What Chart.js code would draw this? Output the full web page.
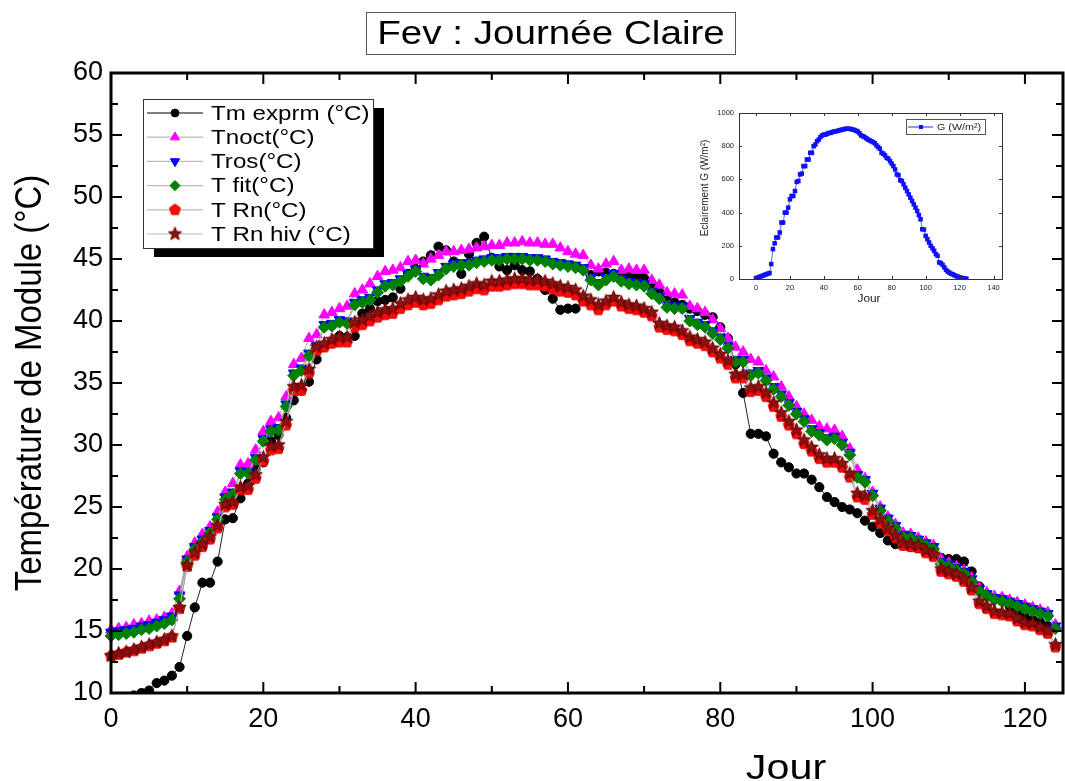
<!DOCTYPE html>
<html>
<head>
<meta charset="utf-8">
<script src="https://cdn.jsdelivr.net/npm/chart.js@4.4.1/dist/chart.umd.min.js"></script>
<style>
  body { margin: 0; background: #fff; }
  #fond { position: relative; width: 1065px; height: 781px; background: #fff; }
  #encart { position: absolute; left: 690px; top: 100px; }
</style>
</head>
<body>
<div id="fond">
  <canvas id="principal" width="1065" height="781"></canvas>
  <canvas id="encart" width="320" height="210"></canvas>
</div>
<script>
// Données (Fev : journée claire)

let titre = "Fev : Journée Claire";
let titre_y = "Température de Module (°C)";
let titre_x = "Jour";

let noms = ["Tm exprm (°C)", "Tnoct(°C)", "Tros(°C)", "T fit(°C)", "T Rn(°C)", "T Rn hiv (°C)"];

let x_ticks = [0, 20, 40, 60, 80, 100, 120];
let y_ticks = [10, 15, 20, 25, 30, 35, 40, 45, 50, 55, 60];

let jours = [0, 1, 2, 3, 4, 5, 6, 7, 8, 9,
  10, 11, 12, 13, 14, 15, 16, 17, 18, 19,
  20, 21, 22, 23, 24, 25, 26, 27, 28, 29,
  30, 31, 32, 33, 34, 35, 36, 37, 38, 39,
  40, 41, 42, 43, 44, 45, 46, 47, 48, 49,
  50, 51, 52, 53, 54, 55, 56, 57, 58, 59,
  60, 61, 62, 63, 64, 65, 66, 67, 68, 69,
  70, 71, 72, 73, 74, 75, 76, 77, 78, 79,
  80, 81, 82, 83, 84, 85, 86, 87, 88, 89,
  90, 91, 92, 93, 94, 95, 96, 97, 98, 99,
  100, 101, 102, 103, 104, 105, 106, 107, 108, 109,
  110, 111, 112, 113, 114, 115, 116, 117, 118, 119,
  120, 121, 122, 123, 124];

let tm_exprm = [8.9, 9.2, 9.5, 9.8, 10.0, 10.2, 10.8, 11.0, 11.4, 12.1,
  14.6, 16.9, 18.9, 18.9, 20.6, 24.0, 24.1, 25.7, 26.9, 28.1,
  28.6, 30.3, 30.8, 32.2, 33.6, 34.4, 35.1, 36.9, 37.9, 38.3,
  38.8, 38.7, 38.8, 40.6, 41.0, 41.6, 41.7, 41.9, 42.6, 43.8,
  44.2, 44.8, 45.3, 46.0, 45.7, 44.8, 43.8, 45.4, 46.3, 46.8,
  45.1, 44.4, 44.1, 44.5, 44.1, 44.0, 43.4, 42.5, 41.8, 40.9,
  41.0, 41.0, 41.7, 43.7, 44.0, 43.9, 43.8, 43.8, 43.6, 43.6,
  43.5, 43.0, 42.4, 42.0, 41.5, 41.3, 41.0, 40.8, 40.5, 40.3,
  39.5, 38.6, 36.5, 34.2, 30.9, 30.9, 30.7, 29.3, 28.6, 28.2,
  27.7, 27.7, 27.2, 26.6, 25.8, 25.4, 25.0, 24.8, 24.5, 23.9,
  23.4, 22.9, 22.3, 22.0, 21.9, 21.8, 21.7, 21.5, 21.2, 20.9,
  20.8, 20.8, 20.6, 19.8, 18.6, 17.9, 17.6, 17.4, 17.0, 16.6,
  16.1, 15.9, 15.7, 15.4, 15.3];

let t_noct = [15.1, 15.2, 15.3, 15.5, 15.6, 15.8, 15.9, 16.1, 16.4, 18.2,
  21.0, 22.1, 22.8, 23.4, 24.6, 26.2, 26.9, 28.4, 28.5, 29.6,
  31.1, 31.9, 32.2, 33.9, 36.5, 37.0, 38.6, 38.9, 40.5, 40.7,
  41.0, 41.2, 42.2, 42.5, 43.0, 43.6, 44.0, 44.1, 44.3, 44.8,
  44.9, 44.6, 45.0, 45.3, 45.6, 45.6, 45.7, 45.8, 45.9, 46.0,
  46.1, 46.1, 46.3, 46.3, 46.4, 46.3, 46.3, 46.2, 46.2, 45.9,
  45.6, 45.4, 45.3, 44.5, 44.2, 44.6, 44.8, 44.1, 44.2, 44.1,
  44.1, 43.3, 42.9, 42.3, 42.2, 42.1, 41.2, 41.0, 40.7, 40.1,
  39.4, 38.6, 37.9, 37.5, 36.9, 36.7, 36.0, 35.5, 34.7, 33.9,
  33.1, 32.5, 32.0, 31.5, 31.3, 31.2, 30.7, 29.7, 28.0, 27.3,
  26.2, 25.0, 24.2, 23.6, 22.9, 22.8, 22.5, 22.2, 21.9, 20.8,
  20.5, 20.2, 19.9, 19.3, 18.5, 18.1, 17.8, 17.7, 17.5, 17.3,
  17.1, 16.9, 16.7, 16.5, 15.5];

let t_ros = [14.9, 15.0, 15.1, 15.2, 15.4, 15.5, 15.7, 15.9, 16.2, 17.9,
  20.8, 21.8, 22.4, 23.1, 24.2, 25.8, 26.2, 27.9, 27.9, 29.0,
  30.5, 31.3, 31.4, 33.3, 35.8, 36.2, 37.4, 38.0, 39.7, 39.8,
  40.1, 40.0, 41.5, 41.7, 41.9, 42.5, 43.0, 43.1, 43.4, 43.8,
  44.2, 43.6, 43.5, 43.9, 44.4, 44.6, 44.7, 44.7, 44.9, 45.0,
  45.1, 45.1, 45.2, 45.2, 45.2, 45.1, 45.1, 45.0, 44.8, 44.7,
  44.6, 44.5, 44.3, 43.5, 43.1, 43.5, 43.8, 43.4, 43.2, 43.1,
  43.0, 42.4, 42.0, 41.3, 41.2, 41.2, 40.2, 39.9, 39.7, 39.2,
  38.7, 38.0, 36.9, 36.9, 35.8, 36.0, 35.4, 34.7, 34.1, 33.4,
  32.7, 32.1, 31.3, 31.0, 30.6, 30.7, 30.2, 29.4, 27.6, 27.2,
  26.1, 24.9, 24.1, 23.5, 22.8, 22.7, 22.4, 22.1, 21.8, 20.6,
  20.4, 20.1, 19.8, 19.2, 18.4, 18.0, 17.7, 17.6, 17.4, 17.2,
  17.0, 16.8, 16.6, 16.4, 15.4];

let t_fit = [14.6, 14.7, 14.8, 14.9, 15.1, 15.2, 15.4, 15.6, 15.9, 17.6,
  20.6, 21.6, 22.2, 22.9, 24.0, 25.6, 26.0, 27.7, 27.7, 28.8,
  30.3, 31.1, 31.2, 33.1, 35.6, 36.0, 37.2, 37.8, 39.5, 39.6,
  39.9, 39.8, 41.3, 41.5, 41.7, 42.3, 42.8, 42.9, 43.2, 43.6,
  44.0, 43.4, 43.3, 43.7, 44.2, 44.4, 44.5, 44.5, 44.7, 44.8,
  44.9, 44.9, 45.0, 45.0, 45.0, 44.9, 44.9, 44.8, 44.6, 44.5,
  44.4, 44.3, 44.1, 43.3, 42.9, 43.3, 43.6, 43.2, 43.0, 42.9,
  42.8, 42.2, 41.8, 41.1, 41.0, 41.0, 40.0, 39.7, 39.5, 39.0,
  38.5, 37.8, 36.7, 36.7, 35.6, 35.8, 35.2, 34.5, 33.9, 33.2,
  32.5, 31.9, 31.1, 30.8, 30.4, 30.5, 30.0, 29.2, 27.4, 27.0,
  25.9, 24.7, 23.9, 23.3, 22.6, 22.5, 22.2, 21.9, 21.6, 20.4,
  20.2, 19.9, 19.6, 19.0, 18.2, 17.8, 17.5, 17.4, 17.2, 17.0,
  16.8, 16.6, 16.4, 16.2, 15.2];

let t_rn = [13.0, 13.1, 13.3, 13.4, 13.6, 13.8, 14.0, 14.2, 14.5, 16.8,
  20.2, 21.1, 21.8, 22.4, 23.3, 25.0, 25.2, 26.4, 26.4, 27.3,
  28.7, 29.6, 29.7, 31.6, 34.4, 34.4, 35.8, 37.6, 37.9, 38.2,
  38.3, 38.3, 39.5, 39.7, 40.0, 40.3, 40.5, 40.6, 41.0, 41.3,
  41.5, 41.3, 41.4, 41.7, 42.0, 42.1, 42.2, 42.4, 42.6, 42.5,
  42.8, 42.8, 42.9, 43.0, 43.0, 42.9, 42.9, 42.8, 42.6, 42.4,
  42.3, 42.1, 41.6, 41.3, 40.9, 41.3, 41.6, 41.2, 41.0, 40.9,
  40.7, 40.4, 39.5, 39.3, 39.2, 38.9, 38.4, 38.2, 38.0, 37.5,
  37.0, 36.5, 35.4, 35.4, 34.3, 34.4, 33.9, 33.1, 32.3, 31.6,
  30.9, 30.1, 29.5, 28.9, 28.6, 28.6, 28.2, 27.4, 25.8, 25.6,
  24.4, 23.7, 23.1, 22.5, 21.9, 21.8, 21.7, 21.3, 21.0, 19.8,
  19.6, 19.4, 19.0, 18.3, 17.2, 16.8, 16.4, 16.3, 16.2, 15.8,
  15.5, 15.4, 15.1, 14.8, 13.7];

let t_rn_hiv = [13.0, 13.2, 13.3, 13.5, 13.7, 13.9, 14.1, 14.3, 14.6, 16.9,
  20.3, 21.3, 22.0, 22.6, 23.5, 25.2, 25.4, 26.6, 26.7, 27.6,
  29.0, 29.9, 30.0, 31.9, 34.7, 34.8, 36.1, 37.9, 38.2, 38.5,
  38.7, 38.7, 39.9, 40.1, 40.4, 40.7, 40.9, 41.0, 41.4, 41.7,
  41.9, 41.7, 41.8, 42.1, 42.4, 42.5, 42.6, 42.8, 43.0, 42.9,
  43.2, 43.2, 43.3, 43.4, 43.4, 43.3, 43.3, 43.2, 43.0, 42.8,
  42.7, 42.5, 42.0, 41.7, 41.3, 41.6, 41.9, 41.5, 41.3, 41.2,
  41.0, 40.7, 39.8, 39.6, 39.5, 39.2, 38.7, 38.5, 38.3, 37.8,
  37.3, 36.8, 35.7, 35.7, 34.6, 34.7, 34.2, 33.4, 32.6, 31.9,
  31.2, 30.4, 29.8, 29.2, 28.9, 28.9, 28.5, 27.7, 26.1, 25.9,
  24.7, 24.0, 23.3, 22.7, 22.1, 22.0, 21.9, 21.5, 21.2, 20.0,
  19.8, 19.6, 19.2, 18.5, 17.4, 17.0, 16.6, 16.5, 16.4, 16.0,
  15.7, 15.6, 15.3, 15.0, 13.9];

// encart : éclairement
let encart_titre_y = "Eclairement G (W/m²)";
let encart_nom = "G (W/m²)";
let encart_x_ticks = [0, 20, 40, 60, 80, 100, 120, 140];
let encart_y_ticks = [0, 200, 400, 600, 800, 1000];

let eclairement = [5, 8, 12, 16, 20, 24, 28, 32, 36, 90,
  180, 215, 250, 250, 280, 340, 340, 400, 400, 430,
  480, 500, 500, 530, 585, 590, 630, 635, 680, 680,
  720, 720, 760, 760, 800, 810, 830, 840, 855, 865,
  870, 870, 875, 880, 880, 885, 888, 890, 892, 895,
  898, 900, 903, 905, 905, 905, 903, 900, 898, 893,
  888, 878, 865, 860, 855, 848, 840, 835, 830, 825,
  818, 805, 795, 785, 760, 755, 745, 730, 725, 710,
  695, 680, 660, 630, 625, 595, 590, 570, 550, 530,
  510, 490, 470, 450, 430, 410, 385, 360, 300, 298,
  260, 240, 220, 200, 185, 170, 150, 140, 100, 95,
  85, 70, 55, 45, 38, 32, 28, 22, 18, 14,
  10, 7, 5, 3, 2];

let police = "'Liberation Sans', Arial, Helvetica, sans-serif";

// marqueurs pentagone et étoile (pas dans Chart.js)
function forme(nb, r_ext, r_int, couleur, bord) {
  let c = document.createElement("canvas");
  let t = Math.ceil(r_ext * 2 + 3);
  c.width = t;
  c.height = t;
  let g = c.getContext("2d");
  g.translate(t / 2, t / 2);
  g.beginPath();
  let n = r_int ? nb * 2 : nb;
  for (let i = 0; i < n; i++) {
    let r = r_int && i % 2 ? r_int : r_ext;
    let a = -Math.PI / 2 + (i * Math.PI * 2) / n;
    g.lineTo(r * Math.cos(a), r * Math.sin(a));
  }
  g.closePath();
  g.fillStyle = couleur;
  g.fill();
  g.strokeStyle = bord;
  g.lineWidth = 1;
  g.stroke();
  return c;
}

let pentagone = forme(5, 5.8, 0, "#ff0a0a", "#dd0000");
let etoile = forme(5, 7, 3, "#8a1212", "#6a0000");

let styles = [
  { pointStyle: "circle", radius: 4.6, rotation: 0, couleur: "#000000", trait: "#222222" },
  { pointStyle: "triangle", radius: 6.2, rotation: 0, couleur: "#ff00ff", trait: "#a8a8a8" },
  { pointStyle: "triangle", radius: 6.2, rotation: 180, couleur: "#0000ff", trait: "#a8a8a8" },
  { pointStyle: "rectRot", radius: 6, rotation: 0, couleur: "#008000", trait: "#a8a8a8" },
  { pointStyle: pentagone, radius: 6, rotation: 0, couleur: "#ff0000", trait: "#a8a8a8" },
  { pointStyle: etoile, radius: 6, rotation: 0, couleur: "#8b0000", trait: "#a8a8a8" },
];

let series = [tm_exprm, t_noct, t_ros, t_fit, t_rn, t_rn_hiv];

function etire(ctx, txt, x, y, sx, align) {
  ctx.save();
  ctx.translate(x, y);
  ctx.scale(sx, 1);
  ctx.textAlign = align;
  ctx.fillText(txt, 0, 0);
  ctx.restore();
}

// cadre noir + graduations vers l'intérieur
let cadre = {
  id: "cadre",
  afterDatasetsDraw(chart) {
    let { ctx, chartArea: a, scales } = chart;
    ctx.save();
    ctx.strokeStyle = "#000";
    ctx.lineWidth = 2;
    ctx.beginPath();
    for (let i = 0; i < x_ticks.length; i++) {
      let v = x_ticks[i];
      let px = scales.x.getPixelForValue(v);
      ctx.moveTo(px, a.bottom); ctx.lineTo(px, a.bottom - 11);
      ctx.moveTo(px, a.top); ctx.lineTo(px, a.top + 11);
      let m = scales.x.getPixelForValue(v + 10);
      if (m < a.right) {
        ctx.moveTo(m, a.bottom); ctx.lineTo(m, a.bottom - 7);
        ctx.moveTo(m, a.top); ctx.lineTo(m, a.top + 7);
      }
    }
    for (let i = 0; i < y_ticks.length; i++) {
      let v = y_ticks[i];
      let py = scales.y.getPixelForValue(v);
      ctx.moveTo(a.left, py); ctx.lineTo(a.left + 11, py);
      ctx.moveTo(a.right, py); ctx.lineTo(a.right - 11, py);
      if (i < y_ticks.length - 1) {
        let m = scales.y.getPixelForValue(v + 2.5);
        ctx.moveTo(a.left, m); ctx.lineTo(a.left + 7, m);
        ctx.moveTo(a.right, m); ctx.lineTo(a.right - 7, m);
      }
    }
    ctx.stroke();
    ctx.lineWidth = 3;
    ctx.strokeRect(a.left, a.top, a.right - a.left, a.bottom - a.top);
    ctx.restore();
  },
  afterDraw(chart) {
    let ctx = chart.ctx;
    ctx.save();
    ctx.textBaseline = "middle";

    // titre encadré
    ctx.fillStyle = "#fff";
    ctx.fillRect(366, 12, 370, 43);
    ctx.strokeStyle = "#555";
    ctx.lineWidth = 1;
    ctx.strokeRect(366.5, 12.5, 369, 42);
    ctx.fillStyle = "#000";
    ctx.font = "33px " + police;
    etire(ctx, titre, 551, 35, 1.17, "center");

    // titre axe y
    ctx.save();
    ctx.translate(31, 383);
    ctx.rotate(-Math.PI / 2);
    ctx.scale(1, 1.12);
    ctx.font = "33px " + police;
    ctx.textAlign = "center";
    ctx.fillText(titre_y, 0, 0);
    ctx.restore();

    // titre axe x
    ctx.font = "35px " + police;
    etire(ctx, titre_x, 786, 769, 1.18, "center");

    // légende avec ombre
    let lx = 143, ly = 99, lw = 230, lh = 149;
    ctx.fillStyle = "#000";
    ctx.fillRect(lx + 11, ly + 9, lw, lh);
    ctx.fillStyle = "#fff";
    ctx.fillRect(lx, ly, lw, lh);
    ctx.strokeStyle = "#333";
    ctx.lineWidth = 1;
    ctx.strokeRect(lx + 0.5, ly + 0.5, lw, lh);
    for (let i = 0; i < noms.length; i++) {
      let yy = ly + 14 + i * 24.2;
      ctx.strokeStyle = i === 0 ? "#000" : "#bbbbbb";
      ctx.lineWidth = 1.2;
      ctx.beginPath();
      ctx.moveTo(lx + 4, yy);
      ctx.lineTo(lx + 60, yy);
      ctx.stroke();
      ctx.fillStyle = styles[i].couleur;
      ctx.strokeStyle = styles[i].couleur;
      ctx.lineWidth = 1;
      Chart.helpers.drawPoint(ctx, {
        pointStyle: styles[i].pointStyle,
        rotation: styles[i].rotation,
        radius: styles[i].radius * 0.85,
        borderWidth: 1,
      }, lx + 32, yy);
      ctx.fillStyle = "#000";
      ctx.font = "21px " + police;
      etire(ctx, noms[i], lx + 68, yy + 1, 1.15, "left");
    }
    ctx.restore();
  },
};

let datasets = series.map((serie, i) => ({
  label: noms[i],
  data: jours.map((j, k) => ({ x: j, y: serie[k] })),
  borderColor: styles[i].trait,
  borderWidth: 1,
  pointStyle: styles[i].pointStyle,
  pointRadius: styles[i].radius,
  pointRotation: styles[i].rotation,
  pointBackgroundColor: styles[i].couleur,
  pointBorderColor: styles[i].couleur,
  pointBorderWidth: 1,
  pointHoverRadius: styles[i].radius,
  order: series.length - i,
  clip: { left: 8, right: 8, top: 8, bottom: 0 },
}));

new Chart(document.getElementById("principal"), {
  type: "line",
  data: { datasets: datasets },
  options: {
    responsive: false,
    animation: false,
    events: [],
    layout: { autoPadding: false, padding: { top: 73, right: 2, left: 0, bottom: 0 } },
    plugins: { legend: { display: false }, tooltip: { enabled: false } },
    scales: {
      x: {
        type: "linear",
        min: 0,
        max: 125,
        afterBuildTicks: (s) => { s.ticks = x_ticks.map((v) => ({ value: v })); },
        afterFit: (s) => { s.height = 88; s.paddingLeft = 0; s.paddingRight = 0; },
        grid: { display: false, drawTicks: false },
        border: { display: false },
        ticks: { color: "#000", font: { family: police, size: 27 }, padding: 10, maxRotation: 0, callback: (v) => String(v) },
      },
      y: {
        type: "linear",
        min: 10,
        max: 60,
        afterBuildTicks: (s) => { s.ticks = y_ticks.map((v) => ({ value: v })); },
        afterFit: (s) => { s.width = 111; s.paddingTop = 0; s.paddingBottom = 0; },
        grid: { display: false, drawTicks: false },
        border: { display: false },
        ticks: { color: "#000", font: { family: police, size: 27 }, padding: 8, callback: (v) => String(v) },
      },
    },
  },
  plugins: [cadre],
});

// encart
let cadre_encart = {
  id: "cadreEncart",
  afterDatasetsDraw(chart) {
    let { ctx, chartArea: a, scales } = chart;
    ctx.save();
    ctx.strokeStyle = "#333";
    ctx.lineWidth = 1;
    ctx.beginPath();
    encart_x_ticks.forEach((v) => {
      let px = Math.round(scales.x.getPixelForValue(v)) + 0.5;
      ctx.moveTo(px, a.bottom); ctx.lineTo(px, a.bottom - 3);
      ctx.moveTo(px, a.top); ctx.lineTo(px, a.top + 3);
    });
    encart_y_ticks.forEach((v) => {
      let py = Math.round(scales.y.getPixelForValue(v)) + 0.5;
      ctx.moveTo(a.left, py); ctx.lineTo(a.left + 3, py);
      ctx.moveTo(a.right, py); ctx.lineTo(a.right - 3, py);
    });
    ctx.stroke();
    ctx.strokeRect(Math.round(a.left) + 0.5, Math.round(a.top) + 0.5, Math.round(a.right - a.left), Math.round(a.bottom - a.top));
    ctx.restore();
  },
  afterDraw(chart) {
    let ctx = chart.ctx;
    ctx.save();
    ctx.fillStyle = "#222";
    ctx.textBaseline = "middle";
    ctx.save();
    ctx.translate(15, 88);
    ctx.rotate(-Math.PI / 2);
    ctx.scale(1, 1.1);
    ctx.font = "10px " + police;
    ctx.textAlign = "center";
    ctx.fillText(encart_titre_y, 0, 0);
    ctx.restore();
    ctx.font = "10.5px " + police;
    etire(ctx, "Jour", 179, 199.5, 1.13, "center");

    // légende de l'encart
    ctx.strokeStyle = "#555";
    ctx.lineWidth = 1;
    ctx.strokeRect(216.5, 19.5, 79, 15);
    ctx.strokeStyle = "#2030d0";
    ctx.beginPath();
    ctx.moveTo(218, 27);
    ctx.lineTo(243, 27);
    ctx.stroke();
    ctx.fillStyle = "#1010ff";
    ctx.fillRect(229, 25, 4, 4);
    ctx.fillStyle = "#222";
    ctx.font = "9.5px " + police;
    etire(ctx, encart_nom, 247, 27.5, 1.13, "left");
    ctx.restore();
  },
};

new Chart(document.getElementById("encart"), {
  type: "line",
  data: {
    datasets: [{
      label: encart_nom,
      data: jours.map((j, k) => ({ x: j, y: eclairement[k] })),
      borderColor: "#3040d8",
      borderWidth: 0.8,
      pointStyle: "rect",
      pointRadius: 3.2,
      pointBackgroundColor: "#1010ff",
      pointBorderColor: "#1010ff",
      pointBorderWidth: 0,
    }],
  },
  options: {
    responsive: false,
    animation: false,
    events: [],
    layout: { autoPadding: false, padding: { top: 13, right: 8, left: 0, bottom: 0 } },
    plugins: { legend: { display: false }, tooltip: { enabled: false } },
    scales: {
      x: {
        type: "linear",
        min: -10,
        max: 145,
        afterBuildTicks: (s) => { s.ticks = encart_x_ticks.map((v) => ({ value: v })); },
        afterFit: (s) => { s.height = 31; s.paddingLeft = 0; s.paddingRight = 0; },
        grid: { display: false, drawTicks: false },
        border: { display: false },
        ticks: { color: "#222", font: { family: police, size: 7.5 }, padding: 4, maxRotation: 0, callback: (v) => String(v) },
      },
      y: {
        type: "linear",
        min: 0,
        max: 1000,
        afterBuildTicks: (s) => { s.ticks = encart_y_ticks.map((v) => ({ value: v })); },
        afterFit: (s) => { s.width = 49; s.paddingTop = 0; s.paddingBottom = 0; },
        grid: { display: false, drawTicks: false },
        border: { display: false },
        ticks: { color: "#222", font: { family: police, size: 7.5 }, padding: 5, callback: (v) => String(v) },
      },
    },
  },
  plugins: [cadre_encart],
});
</script>
</body>
</html>
